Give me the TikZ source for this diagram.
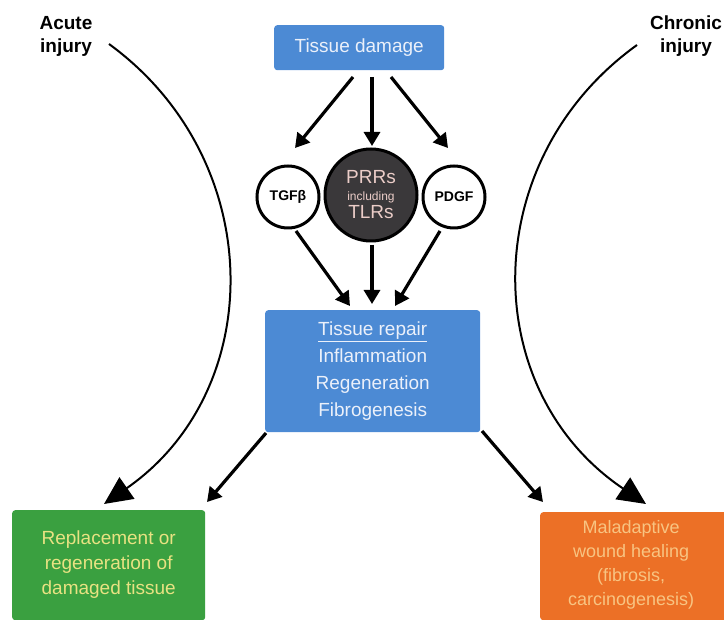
\documentclass[tikz,border=0pt]{standalone}
\usepackage{fontspec}
\setmainfont{Liberation Sans}
\usetikzlibrary{arrows.meta}
\definecolor{bluebox}{RGB}{76,138,212}
\definecolor{greenbox}{RGB}{58,160,64}
\definecolor{orangebox}{RGB}{236,112,38}
\definecolor{bluetxt}{RGB}{235,240,250}
\definecolor{greentxt}{RGB}{232,226,130}
\definecolor{orangetxt}{RGB}{248,196,130}
\definecolor{darkcirc}{RGB}{58,56,58}
\definecolor{circtxt}{RGB}{235,205,200}
\begin{document}
\begin{tikzpicture}[x=1pt,y=-1pt,
  boxstyle/.style={rounded corners=3pt, inner sep=0pt, anchor=north west},
  arr/.style={line width=3.2pt, -{Triangle[length=14pt,width=16pt]}},
  bigarr/.style={line width=2pt, -{Triangle[length=28pt,width=26pt]}},
  circ/.style={circle, draw=black, line width=3pt, fill=white, minimum size=62pt, inner sep=0pt},
  big/.style={font=\fontsize{19}{25}\selectfont},
  lbl/.style={font=\fontsize{19}{23}\selectfont\bfseries, align=center}
]
\useasboundingbox (0,0) rectangle (724,620);

% boxes
\node[boxstyle, fill=bluebox, minimum width=170pt, minimum height=45pt] (dmg) at (274,25) {};
\node[text=bluetxt, big] at (dmg.center) {Tissue damage};

\node[boxstyle, fill=bluebox, minimum width=215pt, minimum height=122pt] (rep) at (265,310) {};
\node[text=bluetxt, big, align=center] at (rep.center) {\underline{Tissue repair}\\[2pt]Inflammation\\[2pt]Regeneration\\[2pt]Fibrogenesis};

\node[boxstyle, fill=greenbox, minimum width=193pt, minimum height=110pt] (grn) at (12,510) {};
\node[text=greentxt, big, align=center] at ([yshift=1pt]grn.center) {Replacement or\\regeneration of\\damaged tissue};

\node[boxstyle, fill=orangebox, minimum width=190pt, minimum height=108pt] (org) at (540,512) {};
\node[text=orangetxt, font=\fontsize{18}{24}\selectfont, align=center] at ([xshift=-4pt,yshift=1pt]org.center) {Maladaptive\\wound healing\\(fibrosis,\\carcinogenesis)};

% circles
\node[circ] (tgf) at (288,197) {};
\node[font=\fontsize{14}{16}\selectfont\bfseries] at (tgf.center) {TGFβ};
\node[circ] (pdgf) at (454,197) {};
\node[font=\fontsize{14}{16}\selectfont\bfseries] at (pdgf.center) {PDGF};
\node[circle, draw=black, line width=3pt, fill=darkcirc, minimum size=92pt, inner sep=0pt] (prr) at (371,195) {};
\node[text=circtxt, align=center, font=\fontsize{19}{20}\selectfont] at (prr.center) {PRRs\\[-3pt]{\fontsize{12}{13}\selectfont including}\\[-2pt]TLRs};

% labels
\node[lbl] (acute) at (66,36) {Acute\\injury};
\node[lbl] (chronic) at (686,36) {Chronic\\injury};

% coordinates for arrows
\coordinate (d1) at (353,77);
\coordinate (d2) at (372,77);
\coordinate (d3) at (391,77);
\coordinate (tgfTop) at (295,148);
\coordinate (prrTop) at (372,146);
\coordinate (pdgfTop) at (448,148);
\coordinate (tgfB) at (296,231);
\coordinate (prrB) at (372,245);
\coordinate (pdgfB) at (440,231);
\coordinate (r1) at (350,306);
\coordinate (r2) at (372,304);
\coordinate (r3) at (395,306);
\coordinate (rl) at (266,433);
\coordinate (rr) at (482,431);
\coordinate (gt) at (207,502);
\coordinate (ot) at (543,502);
\coordinate (aS) at (109,44);
\coordinate (aE) at (104,504);
\coordinate (cS) at (637,45);
\coordinate (cE) at (646,504);

\draw[arr] (d1) -- (tgfTop);
\draw[arr] (d2) -- (prrTop);
\draw[arr] (d3) -- (pdgfTop);
\draw[arr] (tgfB) -- (r1);
\draw[arr] (prrB) -- (r2);
\draw[arr] (pdgfB) -- (r3);
\draw[arr] (rl) -- (gt);
\draw[arr] (rr) -- (ot);

\draw[bigarr] (aS) .. controls (268,160) and (268,390) .. (aE);
\draw[bigarr] (cS) .. controls (477,160) and (477,390) .. (cE);
\end{tikzpicture}
\end{document}
